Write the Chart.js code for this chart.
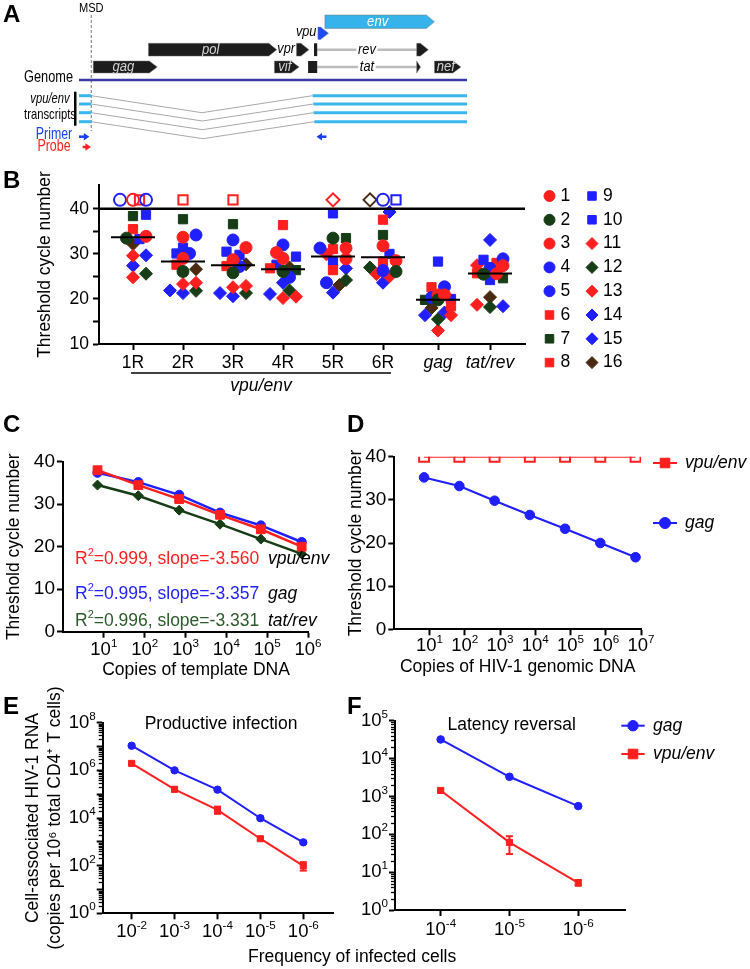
<!DOCTYPE html>
<html>
<head>
<meta charset="utf-8">
<title>vpu/env RT-qPCR assay</title>
<script src="https://cdn.jsdelivr.net/npm/chart.js@4.4.1/dist/chart.umd.min.js"></script>
<style>
  html, body { margin: 0; padding: 0; background: #fff; }
  body { position: relative; width: 750px; height: 969px; overflow: hidden; font-family: "Liberation Sans", Arial, sans-serif; }
  canvas { position: absolute; }
  .panel { position: absolute; font-weight: bold; font-size: 24px; line-height: 24px; }
  #freqTitle { position: absolute; left: 248px; top: 948px; font-size: 17.5px; line-height: 17.5px; white-space: nowrap; }
</style>
</head>
<body>
<canvas id="chartA" width="750" height="160" style="left:0;top:0"></canvas>
<canvas id="chartB" width="750" height="240" style="left:0;top:160px"></canvas>
<canvas id="chartC" width="345" height="280" style="left:0;top:400px"></canvas>
<canvas id="chartD" width="405" height="280" style="left:345px;top:400px"></canvas>
<canvas id="chartE" width="345" height="289" style="left:0;top:680px"></canvas>
<canvas id="chartF" width="405" height="289" style="left:345px;top:680px"></canvas>
<div class="panel" style="left:3px;top:2px">A</div>
<div class="panel" style="left:3px;top:168px">B</div>
<div class="panel" style="left:3px;top:412px">C</div>
<div class="panel" style="left:347px;top:412px">D</div>
<div class="panel" style="left:3px;top:694px">E</div>
<div class="panel" style="left:347px;top:694px">F</div>
<div id="freqTitle">Frequency of infected cells</div>
<script>
// ---------- data ----------
// A: HIV-1 genome map (HXB2 coordinates)
const GENOME = [455, 9560];
const MSD = 743;
const GENES = ['gag', 'pol', 'vif', 'vpr', 'vpu', 'env', 'nef'];
const GENE_START = [790, 2085, 5041, 5559, 6062, 6225, 8797];
const GENE_END = [2292, 5096, 5619, 5850, 6310, 8795, 9417];
const GENE_ROW = ['lower', 'upper', 'lower', 'upper', 'vpu', 'env', 'lower'];
const TAT_EXONS = [[5831, 6045], [8379, 8469]];
const REV_EXONS = [[5970, 6045], [8379, 8653]];
const VPU_ENV_ACCEPTORS = [5936, 5954, 5960, 5976];
const PRIMER_FWD = [455, 697];
const PRIMER_REV = [6262, 6028];
const PROBE = [541, 735];

// B: threshold cycles per patient (rows) and target (columns); ND = not detected
const B_CATS = ['1R', '2R', '3R', '4R', '5R', '6R', 'gag', 'tat/rev'];
const B_XPOS = [1, 2, 3, 4, 5, 6, 7.1, 8.14];
const B_YTICKS = [10, 15, 20, 25, 30, 35, 40];
const PATIENTS = ['1', '2', '3', '4', '5', '6', '7', '8', '9', '10', '11', '12', '13', '14', '15', '16'];
const ND = null;
const CT = [
  [ND,   33.7, 31.4, 30.3, 31.3, 31.8, 20.9, 27.4],
  [33.5, 26.1, 25.8, 26.1, 33.5, 26.1, 19.8, 25.5],
  [33.9, 29.0, 28.7, 29.0, 28.9, 28.5, 20.9, 25.6],
  [ND,   34.2, 33.1, 32.0, 31.3, ND,   22.7, 28.9],
  [ND,   30.1, 27.2, 24.8, 23.6, 26.3, 20.3, 26.8],
  [35.5, 27.6, 27.3, 36.4, 31.1, 37.6, 22.6, 28.0],
  [38.4, 37.7, 36.6, 26.4, 33.5, 34.2, 19.8, 24.6],
  [ND,   ND,   ND,   26.8, 26.4, 28.3, 18.4, 25.7],
  [38.7, 31.4, 30.5, 29.4, 39.0, ND,   28.3, 28.7],
  [33.3, 30.1, 29.8, 27.6, 28.4, 30.0, 20.0, 24.2],
  [29.6, 23.6, 22.9, 20.5, ND,   25.5, 16.4, 27.5],
  [25.6, 21.8, 21.3, 21.9, 24.2, 27.0, 15.5, 18.2],
  [24.8, 23.3, 22.6, 20.2, 29.9, 25.0, 13.0, 18.7],
  [29.7, 21.9, 21.3, 23.6, 26.8, 39.3, 16.4, 33.1],
  [27.4, 21.3, 20.6, 21.1, 21.4, 23.6, 17.0, 18.4],
  [32.2, 26.6, 27.7, 27.0, 23.1, ND,   18.0, 20.4]
];
const LOD = 40;
const ND_PLOT = 42;

// C: standard curves
const C_COPIES = [7, 70, 700, 7000, 70000, 700000];
const C_XTICKS = [10, 100, 1000, 10000, 100000, 1000000];
const C_VPU_ENV = [38.0, 34.5, 31.2, 27.5, 24.1, 20.0];
const C_GAG = [37.4, 35.2, 32.2, 28.0, 25.0, 21.1];
const C_TAT_REV = [34.5, 32.0, 28.6, 25.3, 21.8, 18.3];
const C_TARGETS = ['vpu/env', 'gag', 'tat/rev'];
const C_R2 = [0.999, 0.995, 0.996];
const C_SLOPE = [-3.560, -3.357, -3.331];
const CT_TICKS = [0, 5, 10, 15, 20, 25, 30, 35, 40];

// D: HIV-1 genomic DNA
const D_COPIES = [7, 70, 700, 7000, 70000, 700000, 7000000];
const D_XTICKS = [10, 100, 1000, 10000, 100000, 1000000, 10000000];
const D_VPU_ENV = [40, 40, 40, 40, 40, 40, 40];
const D_GAG = [35.2, 33.2, 29.8, 26.5, 23.3, 20.0, 16.7];

// E: productive infection
const E_FREQ = [1e-2, 1e-3, 1e-4, 1e-5, 1e-6];
const E_GAG = [1.08e7, 1.0e6, 1.55e5, 9.8e3, 950];
const E_GAG_LO = [9.6e6, 0.88e6, 1.36e5, 8.4e3, 860];
const E_GAG_HI = [1.22e7, 1.12e6, 1.75e5, 1.14e4, 1050];
const E_VPU_ENV = [1.96e6, 1.6e5, 2.2e4, 1.35e3, 98];
const E_VPU_LO = [1.7e6, 1.3e5, 1.5e4, 1.17e3, 62];
const E_VPU_HI = [2.3e6, 1.95e5, 3.0e4, 1.55e3, 140];
const E_YTICKS = [1, 10, 100, 1e3, 1e4, 1e5, 1e6, 1e7, 1e8];
const E_YLABELS = [1, 100, 1e4, 1e6, 1e8];

// F: latency reversal
const F_FREQ = [1e-4, 1e-5, 1e-6];
const F_GAG = [3.2e4, 3300, 555];
const F_GAG_LO = [2.95e4, 3050, 520];
const F_GAG_HI = [3.45e4, 3550, 595];
const F_VPU_ENV = [1440, 61, 5.2];
const F_VPU_LO = [1320, 30, 4.4];
const F_VPU_HI = [1580, 89, 6.2];
const F_YTICKS = [1, 10, 100, 1e3, 1e4, 1e5];

// ---------- styles ----------
const FAMILY = '"Liberation Sans", Arial, Helvetica, sans-serif';
const RED = '#ff1f1f', BLUE = '#1f1fff', GREEN = '#163d16', BROWN = '#4b2a12';
const P_COLOR = [RED, GREEN, RED, BLUE, BLUE, RED, GREEN, RED, BLUE, BLUE, RED, GREEN, RED, BLUE, BLUE, BROWN];
const P_SHAPE = ['circle', 'circle', 'circle', 'circle', 'circle', 'rect', 'rect', 'rect', 'rect', 'rect',
  'rectRot', 'rectRot', 'rectRot', 'rectRot', 'rectRot', 'rectRot'];
const P_RADIUS = { circle: 6, rect: 6.5, rectRot: 6.5 };
const B_ITALIC = [false, false, false, false, false, false, true, true];

Chart.defaults.font.family = FAMILY;
Chart.defaults.color = '#000';
Chart.defaults.animation = false;
Chart.defaults.responsive = false;
Chart.defaults.devicePixelRatio = 1;
Chart.defaults.plugins.legend.display = false;
Chart.defaults.plugins.tooltip.enabled = false;

function font(size, style, lh) {
  return { family: FAMILY, size: size, style: style || 'normal', lineHeight: lh || 1.2 };
}

function seg(ctx, x1, y1, x2, y2) {
  ctx.beginPath();
  ctx.moveTo(x1, y1);
  ctx.lineTo(x2, y2);
  ctx.stroke();
}

// text with superscripts / italic pieces
function drawRich(ctx, parts, x, y, o) {
  const size = o.size || 17.5;
  const fontOf = (p, s) => (p.italic ? 'italic ' : '') + (p.bold ? 'bold ' : '') + s + 'px ' + FAMILY;
  const widths = parts.map(p => {
    ctx.font = fontOf(p, p.sup ? size * 0.63 : size);
    return ctx.measureText(p.t).width;
  });
  const total = widths.reduce((a, b) => a + b, 0);
  ctx.save();
  ctx.translate(x, y);
  if (o.rotation) ctx.rotate(o.rotation);
  ctx.scale(o.hscale || 1, 1);
  let cx = o.align === 'center' ? -total / 2 : (o.align === 'right' ? -total : 0);
  if (o.bg) {
    ctx.fillStyle = o.bg;
    ctx.fillRect(cx - 2, -size * 0.5, total + 4, size);
  }
  ctx.textBaseline = 'middle';
  ctx.textAlign = 'left';
  parts.forEach((p, i) => {
    const s = p.sup ? size * 0.63 : size;
    ctx.font = fontOf(p, s);
    ctx.fillStyle = p.color || o.color || '#000';
    ctx.fillText(p.t, cx, p.sup ? -size * 0.33 : 0);
    cx += widths[i];
  });
  ctx.restore();
}

const borderOpt = () => ({ display: true, color: '#000', width: 2 });
const gridOpt = () => ({ drawOnChartArea: false, drawTicks: true, tickLength: 6, tickWidth: 2, tickColor: '#000', color: '#000' });
const setTicks = list => scale => { scale.ticks = list.map(v => ({ value: v })); };

// 10^n labels for log axes
function makePowLabels(axes) {
  return {
    id: 'powLabels',
    afterDraw(chart) {
      const ctx = chart.ctx;
      axes.forEach(a => {
        const sc = chart.scales[a.id];
        a.values.forEach(v => {
          const exp = Math.round(Math.log10(v));
          const p = sc.getPixelForValue(v);
          const parts = [{ t: '10' }, { t: String(exp), sup: true }];
          if (sc.isHorizontal()) drawRich(ctx, parts, p, sc.top + a.gap, { size: a.size, align: 'center' });
          else drawRich(ctx, parts, sc.right - a.gap, p, { size: a.size, align: 'right' });
        });
      });
    }
  };
}

// minor ticks between decades
function makeLogMinor(id) {
  return {
    id: 'logMinor',
    afterDraw(chart) {
      const ctx = chart.ctx, sc = chart.scales[id];
      ctx.save();
      ctx.strokeStyle = '#000';
      ctx.lineWidth = 1.3;
      for (let n = Math.floor(Math.log10(sc.min)); n < Math.ceil(Math.log10(sc.max)); n++) {
        for (let k = 2; k <= 9; k++) {
          const v = k * Math.pow(10, n);
          if (v < sc.min || v > sc.max) continue;
          const py = Math.round(sc.getPixelForValue(v)) + 0.5;
          seg(ctx, sc.right, py, sc.right - 4, py);
        }
      }
      ctx.restore();
    }
  };
}

function makeTexts(items) {
  return {
    id: 'texts',
    afterDraw(chart) {
      items.forEach(it => drawRich(chart.ctx, it.parts, it.x, it.y, it));
    }
  };
}

function makeErrorBars() {
  return {
    id: 'errorBars',
    beforeDatasetsDraw(chart) {
      const ctx = chart.ctx, ys = chart.scales.y;
      chart.data.datasets.forEach((ds, di) => {
        if (!ds.errLo) return;
        const meta = chart.getDatasetMeta(di);
        ctx.save();
        ctx.strokeStyle = ds.borderColor;
        ctx.lineWidth = 2;
        meta.data.forEach((pt, i) => {
          const y1 = ys.getPixelForValue(ds.errLo[i]), y2 = ys.getPixelForValue(ds.errHi[i]);
          seg(ctx, pt.x, y1, pt.x, y2);
          seg(ctx, pt.x - 3.5, y1, pt.x + 3.5, y1);
          seg(ctx, pt.x - 3.5, y2, pt.x + 3.5, y2);
        });
        ctx.restore();
      });
    }
  };
}

function makeSideLegend(items, half, textGap) {
  return {
    id: 'sideLegend',
    afterDraw(chart) {
      const ctx = chart.ctx;
      items.forEach(it => {
        const ds = chart.data.datasets[it.dataset];
        ctx.save();
        ctx.strokeStyle = ds.borderColor;
        ctx.fillStyle = ds.borderColor;
        ctx.lineWidth = 2;
        seg(ctx, it.x - half, it.y, it.x + half, it.y);
        ctx.lineWidth = 1;
        Chart.helpers.drawPoint(ctx, { pointStyle: ds.pointStyle, radius: it.r, borderWidth: 1 }, it.x, it.y);
        ctx.restore();
        drawRich(ctx, [{ t: ds.label, italic: true }], it.x + textGap, it.y, { size: 17.5 });
      });
    }
  };
}

// ---------- A: genome map ----------
const ROW_Y = { env: 21.7, vpu: 33.3, upper: 49.7, lower: 67, genome: 80 };
const GENE_HALF = { env: 6.7, vpu: 6.2, upper: 6.4, lower: 6 };
const GENE_FILL = { env: '#35b3ea', vpu: '#1d4cf5' };
const OUTSIDE_LABEL = ['vpr', 'vpu'];
const TX_Y = [95.7, 104, 112.7, 121.7];
const TX_DIP = 17;
const PRIMER_Y = 136.7, PROBE_Y = 147;

function arrowShape(ctx, x1, x2, yc, h, fill) {
  const head = Math.min(8, x2 - x1);
  ctx.beginPath();
  ctx.moveTo(x1, yc - h);
  ctx.lineTo(x2 - head, yc - h);
  ctx.lineTo(x2, yc);
  ctx.lineTo(x2 - head, yc + h);
  ctx.lineTo(x1, yc + h);
  ctx.closePath();
  ctx.fillStyle = fill;
  ctx.fill();
  ctx.strokeStyle = 'rgba(120,120,120,0.6)';
  ctx.lineWidth = 0.8;
  ctx.stroke();
}

function smallArrow(ctx, x1, x2, y, color) {
  const dir = Math.sign(x2 - x1);
  ctx.strokeStyle = color;
  ctx.fillStyle = color;
  ctx.lineWidth = 2.5;
  seg(ctx, x1, y, x2 - dir * 4, y);
  ctx.beginPath();
  ctx.moveTo(x2, y);
  ctx.lineTo(x2 - dir * 5.5, y - 3.8);
  ctx.lineTo(x2 - dir * 5.5, y + 3.8);
  ctx.closePath();
  ctx.fill();
}

const genomeMap = {
  id: 'genomeMap',
  afterDraw(chart) {
    const ctx = chart.ctx;
    const X = v => chart.scales.x.getPixelForValue(v);
    const Y = v => chart.scales.y.getPixelForValue(v);
    ctx.save();
    // MSD marker
    ctx.strokeStyle = '#777';
    ctx.lineWidth = 1;
    ctx.setLineDash([3, 2]);
    seg(ctx, X(MSD), Y(15), X(MSD), Y(131));
    ctx.setLineDash([]);
    // genome
    ctx.strokeStyle = '#3b3ba8';
    ctx.lineWidth = 2.5;
    seg(ctx, X(GENOME[0]), Y(ROW_Y.genome), X(GENOME[1]), Y(ROW_Y.genome));
    // spliced tat / rev
    [['tat', TAT_EXONS, 'lower'], ['rev', REV_EXONS, 'upper']].forEach(([g, ex, row]) => {
      const yc = Y(ROW_Y[row]), h = GENE_HALF[row];
      const a1 = X(ex[0][0]), a2 = X(ex[0][1]), b1 = X(ex[1][0]), b2 = X(ex[1][1]);
      ctx.strokeStyle = '#bcbcbc';
      ctx.lineWidth = 2.5;
      seg(ctx, a2, yc, b1, yc);
      ctx.fillStyle = '#1c1c1c';
      ctx.fillRect(a1, yc - h, a2 - a1, 2 * h);
      arrowShape(ctx, b1, b2, yc, h, '#1c1c1c');
      drawRich(ctx, [{ t: g, italic: true }], (a2 + b1) / 2, yc, { size: 15, align: 'center', hscale: 0.85, bg: '#fff' });
    });
    // genes
    GENES.forEach((g, i) => {
      const row = GENE_ROW[i], yc = Y(ROW_Y[row]), h = GENE_HALF[row];
      const x1 = X(GENE_START[i]), x2 = X(GENE_END[i]);
      arrowShape(ctx, x1, x2, yc, h, GENE_FILL[g] || '#1c1c1c');
      if (OUTSIDE_LABEL.includes(g)) {
        drawRich(ctx, [{ t: g, italic: true }], x1 - 1.5, yc - 1, { size: 15, align: 'right', hscale: 0.85 });
      } else {
        drawRich(ctx, [{ t: g, italic: true }], (x1 + x2) / 2 - 2, yc, { size: 14.5, align: 'center', hscale: 0.9, color: g === 'env' ? '#fff' : '#d6d6d6' });
      }
    });
    // vpu/env transcripts
    TX_Y.forEach((ty, i) => {
      const yy = Y(ty), acc = VPU_ENV_ACCEPTORS[i];
      ctx.strokeStyle = '#a8a8a8';
      ctx.lineWidth = 1;
      ctx.beginPath();
      ctx.moveTo(X(MSD), yy);
      ctx.lineTo(X((MSD + acc) / 2), Y(ty + TX_DIP));
      ctx.lineTo(X(acc), yy);
      ctx.stroke();
      ctx.strokeStyle = '#3ab6ee';
      ctx.lineWidth = 3;
      seg(ctx, X(GENOME[0]), yy, X(MSD), yy);
      seg(ctx, X(acc), yy, X(GENOME[1]), yy);
    });
    ctx.fillStyle = '#000';
    ctx.fillRect(X(GENOME[0]) - 5, Y(TX_Y[0]) - 4, 2.5, Y(TX_Y[3]) - Y(TX_Y[0]) + 8);
    // primers and probe
    smallArrow(ctx, X(PRIMER_FWD[0]), X(PRIMER_FWD[1]), Y(PRIMER_Y), '#1a3ff2');
    smallArrow(ctx, X(PRIMER_REV[0]), X(PRIMER_REV[1]), Y(PRIMER_Y), '#1a3ff2');
    smallArrow(ctx, X(PROBE[0]), X(PROBE[1]), Y(PROBE_Y), '#ff2020');
    ctx.restore();
    // labels
    const gx = X(GENOME[0]);
    drawRich(ctx, [{ t: 'MSD' }], X(MSD), 8, { size: 13.5, align: 'center', hscale: 0.82 });
    drawRich(ctx, [{ t: 'Genome' }], gx - 6, Y(ROW_Y.genome) - 2.5, { size: 17, align: 'right', hscale: 0.75 });
    drawRich(ctx, [{ t: 'vpu/env', italic: true }], gx - 29, Y(TX_Y[0]) + 3, { size: 15, align: 'center', hscale: 0.75 });
    drawRich(ctx, [{ t: 'transcripts' }], gx - 29, Y(TX_Y[2]) + 2, { size: 15, align: 'center', hscale: 0.75 });
    drawRich(ctx, [{ t: 'Primer' }], gx - 25, Y(PRIMER_Y) - 2.5, { size: 16.5, align: 'center', hscale: 0.75, color: '#1a3ff2' });
    drawRich(ctx, [{ t: 'Probe' }], gx - 25, Y(PROBE_Y) - 1, { size: 16.5, align: 'center', hscale: 0.75, color: '#ff2020' });
  }
};

new Chart(document.getElementById('chartA'), {
  type: 'scatter',
  data: { datasets: [] },
  options: {
    layout: { padding: { left: 79, right: 283, top: 0, bottom: 0 } },
    scales: {
      x: { type: 'linear', display: false, min: GENOME[0], max: GENOME[1] },
      y: { type: 'linear', display: false, min: 0, max: 160, reverse: true }
    }
  },
  plugins: [genomeMap]
});

// ---------- B: patient Ct values ----------
const B_X_RANGE = [0.32, 8.84], B_Y_RANGE = [10, 45.3];
const PX_PER_X = 426 / (B_X_RANGE[1] - B_X_RANGE[0]);
const PX_PER_Y = 159 / (B_Y_RANGE[1] - B_Y_RANGE[0]);
const SWARM_STEP = 6.5, SWARM_MIN = 8;

// spread points with close values sideways (column scatter)
function swarm(values) {
  const order = values.map((v, i) => i).sort((a, b) => values[a] - values[b]);
  const off = values.map(() => 0);
  const placed = [];
  const cands = [0, 1, -1, 2, -2];
  order.forEach(i => {
    let best = 0, bestD = -1;
    for (const k of cands) {
      const ox = k * SWARM_STEP;
      let dmin = Infinity;
      placed.forEach(j => {
        dmin = Math.min(dmin, Math.hypot(ox - off[j], (values[i] - values[j]) * PX_PER_Y));
      });
      if (dmin >= SWARM_MIN) { best = ox; break; }
      if (dmin > bestD) { bestD = dmin; best = ox; }
    }
    off[i] = best;
    placed.push(i);
  });
  return off.map(o => o / PX_PER_X);
}

const plotted = CT.map(r => r.map(v => (v === ND ? ND_PLOT : v)));
const jitter = B_CATS.map((c, ci) => swarm(plotted.map(r => r[ci])));

function median(arr) {
  const s = arr.slice().sort((a, b) => a - b);
  const m = s.length / 2;
  return s.length % 2 ? s[Math.floor(m)] : (s[m - 1] + s[m]) / 2;
}
const B_MEDIANS = B_CATS.map((c, ci) => median(CT.map(r => (r[ci] === ND ? LOD : r[ci]))));

const bDatasets = CT.map((row, p) => ({
  label: PATIENTS[p],
  data: row.map((v, ci) => ({ x: B_XPOS[ci] + jitter[ci][p], y: plotted[p][ci] })),
  pointStyle: P_SHAPE[p],
  pointRadius: P_RADIUS[P_SHAPE[p]],
  pointHoverRadius: P_RADIUS[P_SHAPE[p]],
  pointBackgroundColor: row.map(v => (v === ND ? 'rgba(0,0,0,0)' : P_COLOR[p])),
  pointBorderColor: P_COLOR[p],
  pointBorderWidth: row.map(v => (v === ND ? 2 : 1))
}));

const bExtras = {
  id: 'bExtras',
  afterDatasetsDraw(chart) {
    const { ctx, chartArea: a, scales: { x, y } } = chart;
    ctx.save();
    ctx.strokeStyle = '#000';
    ctx.lineWidth = 2.5;
    const yl = y.getPixelForValue(LOD);
    seg(ctx, a.left, yl, a.right, yl);
    ctx.lineWidth = 2;
    B_MEDIANS.forEach((m, i) => {
      const xc = x.getPixelForValue(B_XPOS[i]), ym = y.getPixelForValue(m);
      seg(ctx, xc - 22, ym, xc + 22, ym);
    });
    const x1 = x.getPixelForValue(B_XPOS[0]) - 2, x2 = x.getPixelForValue(B_XPOS[5]) + 8;
    const yb = a.bottom + 29;
    ctx.lineWidth = 1.5;
    seg(ctx, x1, yb, x2, yb);
    ctx.restore();
    drawRich(ctx, [{ t: 'vpu/env', italic: true }], (x1 + x2) / 2, yb + 13, { size: 17.5, align: 'center' });
  },
  afterDraw(chart) {
    const ctx = chart.ctx;
    PATIENTS.forEach((p, i) => {
      const col = Math.floor(i / 8), row = i % 8;
      const mx = 549.5 + col * 42.5, my = 36 + row * 23.8;
      ctx.save();
      ctx.fillStyle = P_COLOR[i];
      ctx.strokeStyle = P_COLOR[i];
      Chart.helpers.drawPoint(ctx, { pointStyle: P_SHAPE[i], radius: P_RADIUS[P_SHAPE[i]] - 0.5, borderWidth: 1 }, mx, my);
      ctx.restore();
      drawRich(ctx, [{ t: p }], mx + 11, my, { size: 17.5 });
    });
  }
};

new Chart(document.getElementById('chartB'), {
  type: 'scatter',
  data: { datasets: bDatasets },
  options: {
    layout: { padding: { left: 0, top: 25, right: 225, bottom: 0 } },
    scales: {
      x: {
        type: 'linear', bounds: 'data', min: B_X_RANGE[0], max: B_X_RANGE[1],
        afterFit: s => { s.height = 56; },
        afterBuildTicks: setTicks(B_XPOS),
        border: borderOpt(), grid: gridOpt(),
        ticks: {
          autoSkip: false, maxRotation: 0, padding: 3,
          callback: (v, i) => B_CATS[i],
          font: c => font(17.5, B_ITALIC[c.index] ? 'italic' : 'normal')
        }
      },
      y: {
        type: 'linear', bounds: 'data', min: B_Y_RANGE[0], max: B_Y_RANGE[1],
        afterFit: s => { s.width = 99; },
        afterBuildTicks: setTicks(B_YTICKS),
        border: borderOpt(), grid: gridOpt(),
        ticks: { padding: 4, font: font(17.5), callback: v => (v % 10 === 0 ? String(v) : '') },
        title: { display: true, text: 'Threshold cycle number', font: font(17.5), padding: { top: 34.5, bottom: 0 } }
      }
    }
  },
  plugins: [bExtras]
});

// ---------- C: standard curves ----------
const cNotes = [];
const C_COLORS = [RED, BLUE, '#2b5a2b'];
const C_NOTE_Y = [159, 194, 221];
C_TARGETS.forEach((name, i) => {
  cNotes.push({ x: 75, y: C_NOTE_Y[i], size: 17.5, color: C_COLORS[i],
    parts: [{ t: 'R' }, { t: '2', sup: true }, { t: '=' + C_R2[i].toFixed(3) + ', slope=' + C_SLOPE[i].toFixed(3) }] });
  cNotes.push({ x: 268, y: C_NOTE_Y[i], size: 17.5, parts: [{ t: name, italic: true }] });
});
cNotes.push({ x: 196, y: 270, size: 17.5, align: 'center', parts: [{ t: 'Copies of template DNA' }] });

new Chart(document.getElementById('chartC'), {
  type: 'scatter',
  data: {
    datasets: [
      { label: 'vpu/env', data: C_COPIES.map((c, i) => ({ x: c, y: C_VPU_ENV[i] })), showLine: true,
        borderColor: RED, backgroundColor: RED, borderWidth: 2.5, pointStyle: 'rect', pointRadius: 6.2, pointBorderWidth: 1 },
      { label: 'tat/rev', data: C_COPIES.map((c, i) => ({ x: c, y: C_TAT_REV[i] })), showLine: true,
        borderColor: GREEN, backgroundColor: GREEN, borderWidth: 2.5, pointStyle: 'rectRot', pointRadius: 5, pointBorderWidth: 1 },
      { label: 'gag', data: C_COPIES.map((c, i) => ({ x: c, y: C_GAG[i] })), showLine: true,
        borderColor: BLUE, backgroundColor: BLUE, borderWidth: 2.5, pointStyle: 'circle', pointRadius: 4.6, pointBorderWidth: 1 }
    ]
  },
  options: {
    layout: { padding: { left: 0, top: 61.7, right: 37, bottom: 0 } },
    scales: {
      x: {
        type: 'logarithmic', bounds: 'data', min: 1, max: 1e6,
        afterFit: s => { s.height = 48.3; },
        afterBuildTicks: setTicks(C_XTICKS),
        border: borderOpt(), grid: gridOpt(), ticks: { display: false }
      },
      y: {
        type: 'linear', bounds: 'data', min: 0, max: 40,
        afterFit: s => { s.width = 63; },
        afterBuildTicks: setTicks(CT_TICKS),
        border: borderOpt(), grid: gridOpt(),
        ticks: { padding: 2, font: font(19), callback: v => (v % 10 === 0 ? String(v) : '') },
        title: { display: true, text: 'Threshold cycle number', font: font(17.5), padding: { top: 3.5, bottom: 0 } }
      }
    }
  },
  plugins: [makePowLabels([{ id: 'x', values: C_XTICKS, gap: 18.3, size: 18.5 }]), makeTexts(cNotes)]
});

// ---------- D: genomic DNA ----------
new Chart(document.getElementById('chartD'), {
  type: 'scatter',
  data: {
    datasets: [
      { label: 'vpu/env', data: D_COPIES.map((c, i) => ({ x: c, y: D_VPU_ENV[i] })), showLine: true,
        borderColor: RED, backgroundColor: 'rgba(0,0,0,0)', borderWidth: 2, pointStyle: 'rect', pointRadius: 7, pointBorderWidth: 2 },
      { label: 'gag', data: D_COPIES.map((c, i) => ({ x: c, y: D_GAG[i] })), showLine: true,
        borderColor: BLUE, backgroundColor: BLUE, borderWidth: 2, pointStyle: 'circle', pointRadius: 4.8, pointBorderWidth: 1 }
    ]
  },
  options: {
    layout: { padding: { left: 0, top: 56.7, right: 109, bottom: 0 } },
    scales: {
      x: {
        type: 'logarithmic', bounds: 'data', min: 1, max: 1e7,
        afterFit: s => { s.height = 50.7; },
        afterBuildTicks: setTicks(D_XTICKS),
        border: borderOpt(), grid: gridOpt(), ticks: { display: false },
        title: { display: true, text: 'Copies of HIV-1 genomic DNA', font: font(17.5), padding: { top: 0, bottom: 2.8 } }
      },
      y: {
        type: 'linear', bounds: 'data', min: 0, max: 40,
        afterFit: s => { s.width = 49.3; },
        afterBuildTicks: setTicks(CT_TICKS),
        border: borderOpt(), grid: gridOpt(),
        ticks: { padding: 2, font: font(19), callback: v => (v % 10 === 0 ? String(v) : '') },
        title: { display: true, text: 'Threshold cycle number', font: font(17.5), padding: { top: 0.5, bottom: 0 } }
      }
    }
  },
  plugins: [
    makePowLabels([{ id: 'x', values: D_XTICKS, gap: 16.5, size: 18.5 }]),
    makeSideLegend([{ dataset: 0, x: 320, y: 63, r: 6.8 }, { dataset: 1, x: 320, y: 123, r: 5.5 }], 12, 20)
  ]
});

// ---------- E: productive infection ----------
new Chart(document.getElementById('chartE'), {
  type: 'scatter',
  data: {
    datasets: [
      { label: 'gag', data: E_FREQ.map((f, i) => ({ x: f, y: E_GAG[i] })), errLo: E_GAG_LO, errHi: E_GAG_HI, showLine: true,
        borderColor: BLUE, backgroundColor: BLUE, borderWidth: 2, pointStyle: 'circle', pointRadius: 3.7, pointBorderWidth: 1 },
      { label: 'vpu/env', data: E_FREQ.map((f, i) => ({ x: f, y: E_VPU_ENV[i] })), errLo: E_VPU_LO, errHi: E_VPU_HI, showLine: true,
        borderColor: RED, backgroundColor: RED, borderWidth: 2, pointStyle: 'rect', pointRadius: 4.3, pointBorderWidth: 1 }
    ]
  },
  options: {
    layout: { padding: { left: 0, top: 42.7, right: 11.7, bottom: 0 } },
    scales: {
      x: {
        type: 'logarithmic', bounds: 'data', reverse: true, min: 2.0e-7, max: 0.0472,
        afterFit: s => { s.height = 55.7; },
        afterBuildTicks: setTicks(E_FREQ),
        border: borderOpt(), grid: gridOpt(), ticks: { display: false }
      },
      y: {
        type: 'logarithmic', bounds: 'data', min: 1, max: 1e8,
        afterFit: s => { s.width = 102.7; },
        afterBuildTicks: setTicks(E_YTICKS),
        border: borderOpt(), grid: gridOpt(), ticks: { display: false },
        title: { display: true, text: ['Cell-associated HIV-1 RNA', '(copies per 10\u2076 total CD4\u207A T cells)'],
          font: font(17.5, 'normal', 1.25), padding: { top: 22, bottom: 0 } }
      }
    }
  },
  plugins: [
    makeErrorBars(), makeLogMinor('y'),
    makePowLabels([{ id: 'x', values: E_FREQ, gap: 18.3, size: 18.5 }, { id: 'y', values: E_YLABELS, gap: 7, size: 18.5 }]),
    makeTexts([{ x: 221, y: 44, size: 17.5, align: 'center', parts: [{ t: 'Productive infection' }] }])
  ]
});

// ---------- F: latency reversal ----------
new Chart(document.getElementById('chartF'), {
  type: 'scatter',
  data: {
    datasets: [
      { label: 'gag', data: F_FREQ.map((f, i) => ({ x: f, y: F_GAG[i] })), errLo: F_GAG_LO, errHi: F_GAG_HI, showLine: true,
        borderColor: BLUE, backgroundColor: BLUE, borderWidth: 2, pointStyle: 'circle', pointRadius: 3.8, pointBorderWidth: 1 },
      { label: 'vpu/env', data: F_FREQ.map((f, i) => ({ x: f, y: F_VPU_ENV[i] })), errLo: F_VPU_LO, errHi: F_VPU_HI, showLine: true,
        borderColor: RED, backgroundColor: RED, borderWidth: 2, pointStyle: 'rect', pointRadius: 4.3, pointBorderWidth: 1 }
    ]
  },
  options: {
    layout: { padding: { left: 0, top: 40.7, right: 125, bottom: 0 } },
    scales: {
      x: {
        type: 'logarithmic', bounds: 'data', reverse: true, min: 2.09e-7, max: 4.61e-4,
        afterFit: s => { s.height = 59; },
        afterBuildTicks: setTicks(F_FREQ),
        border: borderOpt(), grid: gridOpt(), ticks: { display: false }
      },
      y: {
        type: 'logarithmic', bounds: 'data', min: 1, max: 1e5,
        afterFit: s => { s.width = 50; },
        afterBuildTicks: setTicks(F_YTICKS),
        border: borderOpt(), grid: gridOpt(), ticks: { display: false }
      }
    }
  },
  plugins: [
    makeErrorBars(), makeLogMinor('y'),
    makePowLabels([{ id: 'x', values: F_FREQ, gap: 20, size: 18.5 }, { id: 'y', values: F_YTICKS, gap: 7, size: 18.5 }]),
    makeTexts([{ x: 166.7, y: 45, size: 17.5, align: 'center', parts: [{ t: 'Latency reversal' }] }]),
    makeSideLegend([{ dataset: 0, x: 288, y: 45.7, r: 5.2 }, { dataset: 1, x: 288, y: 74, r: 6.8 }], 11.7, 20)
  ]
});
</script>
</body>
</html>
